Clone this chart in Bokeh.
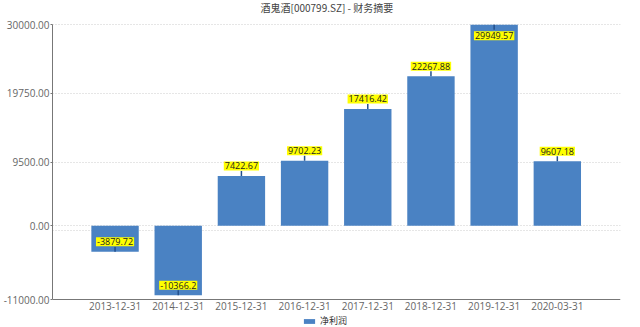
from bokeh.plotting import figure
from bokeh.models import (ColumnDataSource, FixedTicker, Range1d, Legend, LegendItem, Label)
from bokeh.core.properties import value
from bokeh.embed import file_html
from bokeh.resources import INLINE

title_text = "酒鬼酒[000799.SZ] - 财务摘要"
categories = ["2013-12-31", "2014-12-31", "2015-12-31", "2016-12-31",
              "2017-12-31", "2018-12-31", "2019-12-31", "2020-03-31"]
net_profit = [-3879.72, -10366.2, 7422.67, 9702.23, 17416.42, 22267.88, 29949.57, 9607.18]
label_texts = ["-3879.72", "-10366.2", "7422.67", "9702.23", "17416.42", "22267.88", "29949.57", "9607.18"]
y_tick_values = [-11000, 0, 9500, 19750, 30000]
y_tick_labels = ["-11000.00", "0.00", "9500.00", "19750.00", "30000.00"]
y_grid_values = [-750, 0, 9500, 19750, 30000]
series_name = "净利润"

Y_MIN, Y_MAX = -11000, 30000
AXIS_H = 275          # pixel height of the value axis
TOP_PAD = 24          # room for the title above the value axis
BOTTOM_PAD = 28       # room for category labels and legend
px_unit = (Y_MAX - Y_MIN) / AXIS_H
FRAME_H = AXIS_H + TOP_PAD + BOTTOM_PAD
FRAME_W = 568

xs = list(range(len(categories)))
vmax = max(net_profit)
offsets = [11 if v == vmax else -10 for v in net_profit]
tick_end = [v - (o / abs(o)) * 5 * px_unit for v, o in zip(net_profit, offsets)]

src = ColumnDataSource(dict(x=xs, top=net_profit, lab=label_texts, off=offsets, y1=tick_end))

p = figure(output_backend="svg", toolbar_location=None,
           x_range=Range1d(-0.99, 8.0),
           y_range=Range1d(Y_MIN - BOTTOM_PAD * px_unit, Y_MAX + TOP_PAD * px_unit),
           frame_width=FRAME_W, frame_height=FRAME_H,
           min_border_left=47, min_border_right=25, min_border_top=0, min_border_bottom=0)
p.outline_line_color = None
p.background_fill_color = "white"
p.border_fill_color = "white"

bars = p.vbar(x="x", top="top", bottom=0, width=0.75, source=src,
              fill_color="#4a82c3", line_color=None)
p.segment(x0="x", y0="top", x1="x", y1="y1", source=src, line_color="#23508c", line_width=1.5)
p.text(x="x", y="top", text="lab", source=src, y_offset="off",
       text_align="center", text_baseline="middle", text_font_size="9px",
       text_font=value("Open Sans"), text_color="#222222",
       background_fill_color="#ffff00", padding=1)

# axes
p.xaxis.fixed_location = Y_MIN
p.xaxis.ticker = FixedTicker(ticks=xs)
p.xaxis.major_label_overrides = {i: c for i, c in zip(xs, categories)}
p.xaxis.major_tick_line_color = None
p.xaxis.major_tick_out = 0
p.xaxis.major_tick_in = 0
p.xaxis.minor_tick_line_color = None
p.xaxis.axis_line_color = "#777777"
p.xaxis.major_label_text_font = "Open Sans"
p.xaxis.major_label_text_font_size = "10px"
p.xaxis.major_label_text_color = "#666666"
p.xaxis.major_label_standoff = 2

p.yaxis.ticker = FixedTicker(ticks=y_tick_values)
p.yaxis.major_label_overrides = {v: l for v, l in zip(y_tick_values, y_tick_labels)}
p.yaxis.bounds = (Y_MIN, Y_MAX)
p.yaxis.minor_tick_line_color = None
p.yaxis.major_tick_line_color = "#777777"
p.yaxis.major_tick_in = 0
p.yaxis.major_tick_out = 2
p.yaxis.axis_line_color = "#777777"
p.yaxis.major_label_text_font = "Open Sans"
p.yaxis.major_label_text_font_size = "10px"
p.yaxis.major_label_text_color = "#666666"
p.yaxis.major_label_standoff = 1

p.xgrid.grid_line_color = None
p.ygrid.ticker = FixedTicker(ticks=y_grid_values)
p.ygrid.grid_line_color = "#cccccc"
p.ygrid.grid_line_dash = "1 2"

title = Label(x=208, y=FRAME_H - 7, x_units="screen", y_units="screen", text=title_text,
              text_align="left", text_baseline="middle", text_font="Noto Sans CJK SC",
              text_font_size="10px", text_color="#444444")
p.add_layout(title)

legend = Legend(items=[LegendItem(label=series_name, renderers=[bars])],
                location=(250, 0), orientation="horizontal",
                padding=0, margin=0, glyph_width=14, glyph_height=6,
                label_standoff=4, label_text_font="Noto Sans CJK SC",
                label_text_font_size="9px", label_text_color="#333333",
                label_height=10,
                background_fill_alpha=0, border_line_color=None)
p.add_layout(legend, "center")

open("out.html", "w").write(file_html(p, INLINE))
